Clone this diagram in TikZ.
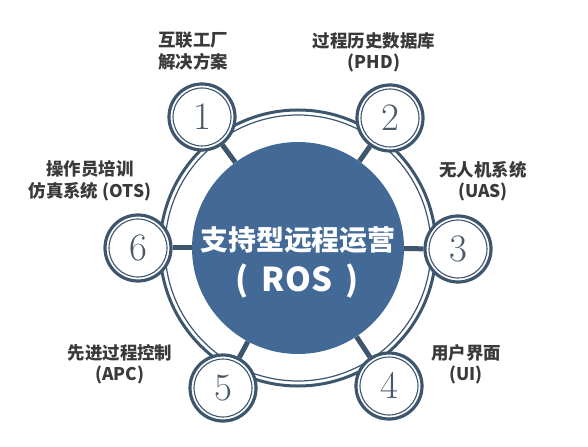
\documentclass[tikz,border=0pt]{standalone}
\usepackage{fontspec}
\newfontfamily\cjk{Noto Sans CJK SC}
\definecolor{discblue}{HTML}{436A96}
\definecolor{ringdark}{HTML}{3D566E}
\definecolor{labelgray}{HTML}{3A3A3A}
\definecolor{digitgray}{HTML}{4A5868}
\begin{document}
\begin{tikzpicture}[x=1bp,y=-1bp,
  disc/.style={circle,fill=discblue,minimum size=212bp,inner sep=0pt},
  numnode/.style={circle,draw=ringdark,line width=3.2bp,fill=white,minimum size=66bp,inner sep=0pt,text=digitgray,font=\fontsize{39}{39}\selectfont,
     path picture={\draw[ringdark,line width=1.1bp] (path picture bounding box.center) circle (29bp);}},
  spoke/.style={draw=ringdark,line width=5bp},
  lbl/.style={align=center,text=labelgray,inner sep=0pt,font=\cjk\bfseries\fontsize{17.5}{21.5}\selectfont},
  titletext/.style={text=white,inner sep=0pt,font=\cjk\bfseries\fontsize{28}{28}\selectfont}]
\useasboundingbox (0,0) rectangle (588,447);
\draw[ringdark,line width=3bp] (298,248) circle (138bp);
\draw[ringdark,line width=1.2bp] (298,248) circle (133bp);
\node[disc] (c) at (298,248) {};
\node[numnode] (n1) at (202,117) {1};
\node[numnode] (n2) at (390,118) {2};
\node[numnode] (n3) at (458,249) {3};
\node[numnode] (n4) at (389,386) {4};
\node[numnode] (n5) at (223,388) {5};
\node[numnode] (n6) at (138,248) {6};
\foreach \n in {n1,n2,n3,n4,n5,n6} \draw[spoke] (c) -- (\n);
\node[titletext] (t1) at (298,240) {支持型远程运营};
\node[titletext,font=\cjk\bfseries\fontsize{33}{33}\selectfont] (t2) at (297,281) {(\hspace{0.4em}ROS\hspace{0.4em})};
\node[lbl] (l1) at (193,51) {互联工厂\\解决方案};
\node[lbl] (l2) at (374,52) {过程历史数据库\\(PHD)};
\node[lbl] (l3) at (483,181) {无人机系统\\(UAS)};
\node[lbl] (l4) at (466,364) {用户界面\\(UI)};
\node[lbl] (l5) at (120,364) {先进过程控制\\(APC)};
\node[lbl] (l6) at (90,181) {操作员培训\\仿真系统 (OTS)};
\end{tikzpicture}
\end{document}
